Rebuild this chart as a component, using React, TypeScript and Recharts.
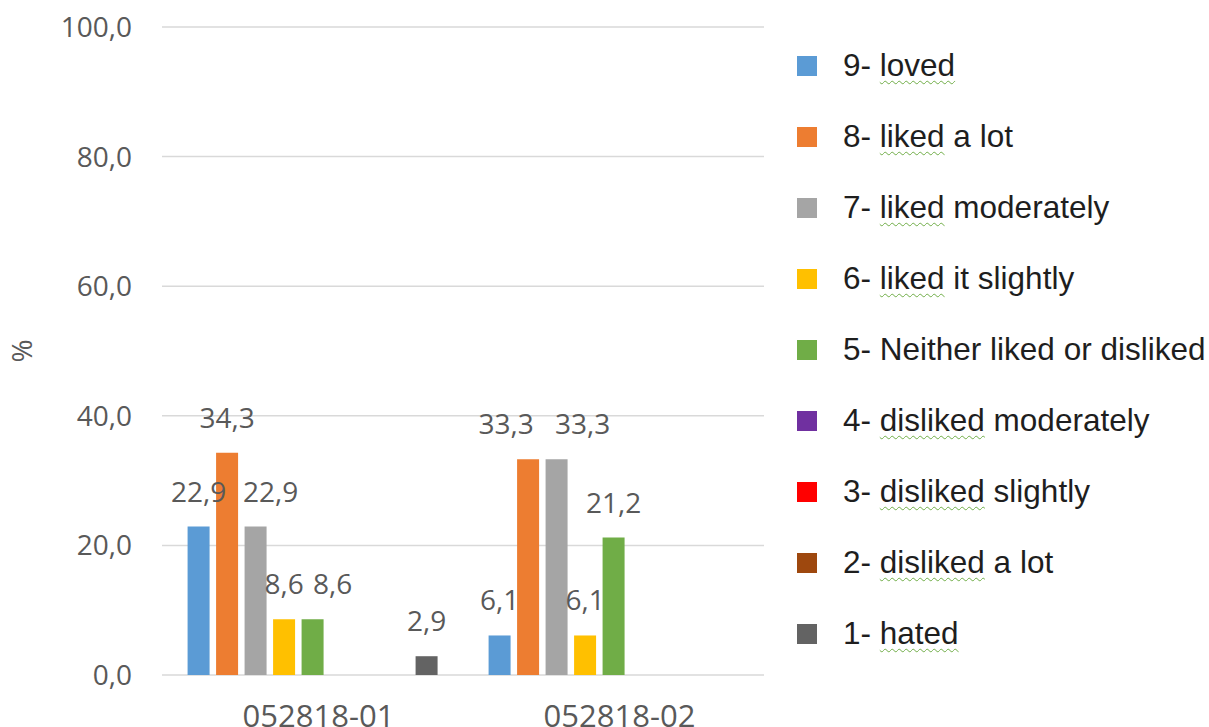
import { BarChart, Bar, XAxis, YAxis, CartesianGrid, LabelList } from 'recharts';

const categories = ['052818-01', '052818-02'];

const seriesNames = [
  '9- loved',
  '8- liked a lot',
  '7- liked moderately',
  '6- liked it slightly',
  '5- Neither liked or disliked',
  '4- disliked moderately',
  '3- disliked slightly',
  '2- disliked a lot',
  '1- hated',
];

// one array per rating, values per category (in %)
const loved = [22.9, 6.1];
const likedALot = [34.3, 33.3];
const likedModerately = [22.9, 33.3];
const likedSlightly = [8.6, 6.1];
const neither = [8.6, 21.2];
const dislikedModerately = [0, 0];
const dislikedSlightly = [0, 0];
const dislikedALot = [0, 0];
const hated = [2.9, 0];

const seriesValues = [
  loved, likedALot, likedModerately, likedSlightly, neither,
  dislikedModerately, dislikedSlightly, dislikedALot, hated,
];

const colors = ['#5b9bd5', '#ed7d31', '#a5a5a5', '#ffc000', '#70ad47', '#7030a0', '#ff0000', '#9e480e', '#636363'];

const yTicks = [0, 20, 40, 60, 80, 100];

// words flagged by the spell checker in the original legend
const flagged = ['loved', 'liked', 'disliked', 'hated'];

// labels that were dragged sideways in the original so they don't collide
const labelNudge: Record<string, number> = { '2-0': 15, '4-0': 20, '1-1': -22, '2-1': 26 };

const data = categories.map((name, i) => {
  const row: Record<string, any> = { name };
  seriesNames.forEach((s, k) => { row[`s${k}`] = seriesValues[k][i]; });
  return row;
});

const fmt = (v: number) => v.toFixed(1).replace('.', ',');

const makeLabel = (k: number) => (props: any) => {
  const { x, y, width, value, index } = props;
  if (!value) return null;
  const dx = labelNudge[`${k}-${index}`] || 0;
  return (
    <text x={x + width / 2 + dx} y={y - 25} textAnchor="middle" fill="#595959"
      style={{ fontFamily: 'Open Sans', fontSize: 28 }}>
      {fmt(value)}
    </text>
  );
};

const LegendBlock = () => (
  <div style={{ position: 'absolute', left: 797, top: 30, fontFamily: 'Liberation Sans, Arial', fontSize: 31.5, color: '#1e1e1e' }}>
    {seriesNames.map((name, k) => {
      const words = name.split(' ');
      return (
        <div key={name} style={{ display: 'flex', alignItems: 'center', height: 71, whiteSpace: 'nowrap' }}>
          <span style={{ width: 20, height: 20, background: colors[k], display: 'inline-block', marginRight: 26, flexShrink: 0 }} />
          <span>
            {words.map((w, i) => (
              <span key={i}>
                {i > 0 ? ' ' : ''}
                <span style={k !== 4 && flagged.includes(w) ? {
                  textDecorationLine: 'underline', textDecorationStyle: 'wavy',
                  textDecorationColor: '#70ad47', textDecorationThickness: 1, textUnderlineOffset: 4,
                } : undefined}>{w}</span>
              </span>
            ))}
          </span>
        </div>
      );
    })}
  </div>
);

export default function App() {
  return (
    <div style={{ position: 'absolute', left: 0, top: 0, width: 1209, height: 727, background: '#fff' }}>
      <BarChart width={1209} height={727} data={data}
        margin={{ top: 27, right: 445, bottom: 22, left: 0 }}
        barCategoryGap="8.5%" barGap={6.5}>
        <CartesianGrid vertical={false} stroke="#d9d9d9" strokeWidth={1.5} />
        <XAxis dataKey="name" axisLine={false} tickLine={false} tickSize={0} tickMargin={30} interval={0}
          tick={{ fill: '#595959', fontFamily: 'Open Sans', fontSize: 31, dx: 6 }} />
        <YAxis domain={[0, 100]} ticks={yTicks} width={162} axisLine={false} tickLine={false}
          tickSize={0} tickMargin={30} tickFormatter={fmt}
          tick={{ fill: '#595959', fontFamily: 'Open Sans', fontSize: 28 }}
          label={(p: any) => (
            <text x={0} y={0} transform={`translate(32, ${p.viewBox.y + p.viewBox.height / 2}) rotate(-90)`}
              textAnchor="middle" fill="#595959" style={{ fontFamily: 'Open Sans', fontSize: 28 }}>%</text>
          )} />
        {seriesNames.map((name, k) => (
          <Bar key={name} dataKey={`s${k}`} name={name} fill={colors[k]} isAnimationActive={false}>
            <LabelList dataKey={`s${k}`} content={makeLabel(k)} />
          </Bar>
        ))}
      </BarChart>
      <LegendBlock />
    </div>
  );
}
